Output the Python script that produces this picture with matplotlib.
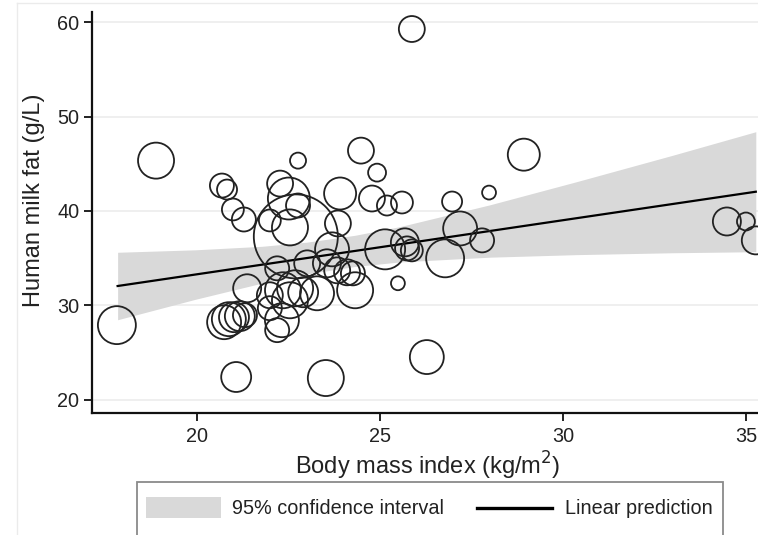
import matplotlib
matplotlib.use('Agg')
import matplotlib.pyplot as plt
from matplotlib.patches import Rectangle
from matplotlib.lines import Line2D

plt.rcParams['font.family'] = ['Liberation Sans', 'DejaVu Sans']

# Datos de cada madre: IMC, grasa de la leche y peso de la burbuja
bmi = [17.81, 18.88, 25.87, 28.93, 21.07, 23.52, 26.28, 25.49, 34.48, 35.00,
       35.27, 20.68, 20.82, 20.98, 21.28, 22.27, 22.76, 21.99, 22.51, 22.76,
       22.70, 22.54, 23.91, 23.85, 23.69, 24.48, 24.92, 24.78, 25.19, 25.60,
       26.97, 27.98, 27.19, 27.79, 25.14, 25.68, 25.74, 25.87, 26.78, 21.37,
       20.74, 20.87, 21.01, 21.17, 21.31, 22.19, 21.99, 21.99, 22.32, 22.35,
       22.68, 22.54, 22.90, 23.28, 24.32, 23.83, 24.10, 24.26, 23.55, 23.01,
       22.19]
milk_fat = [27.92, 45.33, 59.26, 45.96, 22.43, 22.32, 24.54, 32.35, 38.89, 38.89,
            36.89, 42.69, 42.27, 40.16, 39.10, 42.90, 45.33, 39.00, 41.32, 40.58,
            37.31, 38.26, 41.85, 38.68, 35.94, 46.39, 44.06, 41.32, 40.58, 40.90,
            41.00, 41.95, 38.15, 36.89, 35.94, 36.68, 36.04, 35.83, 34.99, 31.82,
            28.23, 28.55, 28.76, 28.87, 28.97, 27.39, 29.71, 31.08, 28.44, 31.61,
            31.82, 30.55, 31.40, 31.29, 31.61, 33.72, 33.51, 33.40, 34.46, 34.46,
            33.93]
weight = [90, 81, 42, 64, 56, 81, 72, 12, 49, 20,
          49, 36, 25, 30, 36, 42, 16, 30, 110, 36,
          441, 81, 64, 42, 72, 42, 20, 42, 25, 30,
          25, 12, 72, 36, 100, 49, 36, 30, 90, 49,
          72, 72, 56, 56, 36, 36, 36, 42, 72, 81,
          81, 81, 56, 72, 81, 42, 42, 36, 49, 42,
          36]

# Prediccion lineal y su intervalo de confianza
pred_x = [17.83, 35.27]
pred_y = [32.06, 42.04]
ci_x = [17.83, 19.95, 21.77, 23.0, 24.32, 25.55, 28.0, 30.37, 33.0, 35.27]
ci_upper = [35.63, 35.89, 36.26, 36.70, 37.43, 38.35, 40.65, 43.10, 45.90, 48.39]
ci_lower = [28.49, 30.65, 32.36, 33.34, 34.13, 34.61, 35.11, 35.38, 35.58, 35.69]

yticks = [20, 30, 40, 50, 60]
xticks = [20, 25, 30, 35]

W, H = 758, 535


def px(x, y):
    '''
        Pasa pixeles (desde arriba a la izquierda) a fraccion de figura
    '''
    return x / W, 1 - y / H


fig = plt.figure(figsize=(W / 100, H / 100), dpi=100)
ax = fig.add_axes([92 / W, 1 - 413 / H, (W - 92) / W, (413 - 12) / H])

ax.fill_between(ci_x, ci_lower, ci_upper, color='#d9d9d9', lw=0, zorder=1)
ax.plot(pred_x, pred_y, color='black', lw=1.6, zorder=2)
ax.scatter(bmi, milk_fat, s=[w * 8.3 for w in weight], facecolors='none',
           edgecolors='#222222', linewidths=1.3, zorder=3, clip_on=True)

ax.set_xlim(17.13, 35.33)
ax.set_ylim(18.62, 61.06)
ax.set_xticks(xticks)
ax.set_yticks(yticks)
ax.tick_params(labelsize=14.3, width=1.4, length=6, color='#222222',
               labelcolor='#222222')
ax.tick_params(axis='y', pad=3)
ax.tick_params(axis='x', pad=4)
ax.yaxis.grid(True, color='#efefef', lw=1.4, zorder=0)
ax.set_axisbelow(True)
for side in ['top', 'right']:
    ax.spines[side].set_visible(False)
for side in ['left', 'bottom']:
    ax.spines[side].set_linewidth(1.6)
    ax.spines[side].set_color('#111111')

ax.set_xlabel('Body mass index (kg/m$^2$)', fontsize=17, color='#222222')
ax.set_ylabel('Human milk fat (g/L)', fontsize=17, color='#222222')
ax.xaxis.set_label_coords(0.5045, -0.093)
ax.yaxis.set_label_coords(-0.070, 0.53)

# Marco exterior muy claro
fig.add_artist(Line2D([17 / W, 17 / W], [0, 1 - 3 / H], color='#ebebeb', lw=1))
fig.add_artist(Line2D([17 / W, 1], [1 - 3 / H, 1 - 3 / H], color='#ebebeb', lw=1))

# Leyenda dibujada a mano (queda cortada por abajo)
x0, y0 = px(137, 545)
x1, y1 = px(723, 482)
fig.add_artist(Rectangle((x0, y0), x1 - x0, y1 - y0, transform=fig.transFigure,
                         facecolor='white', edgecolor='#8a8a8a', lw=1.3))
x0, y0 = px(146, 518)
x1, y1 = px(221, 497)
fig.add_artist(Rectangle((x0, y0), x1 - x0, y1 - y0, transform=fig.transFigure,
                         facecolor='#d9d9d9', edgecolor='none'))
fig.text(*px(232, 508), '95% confidence interval', fontsize=14.3,
         va='center', ha='left', color='#222222')
lx0, ly = px(477, 508)
lx1, _ = px(552, 508)
fig.add_artist(Line2D([lx0, lx1], [ly, ly], color='black', lw=2.4))
fig.text(*px(565, 508), 'Linear prediction', fontsize=14.3,
         va='center', ha='left', color='#222222')

fig.savefig('out.png', dpi=100)
